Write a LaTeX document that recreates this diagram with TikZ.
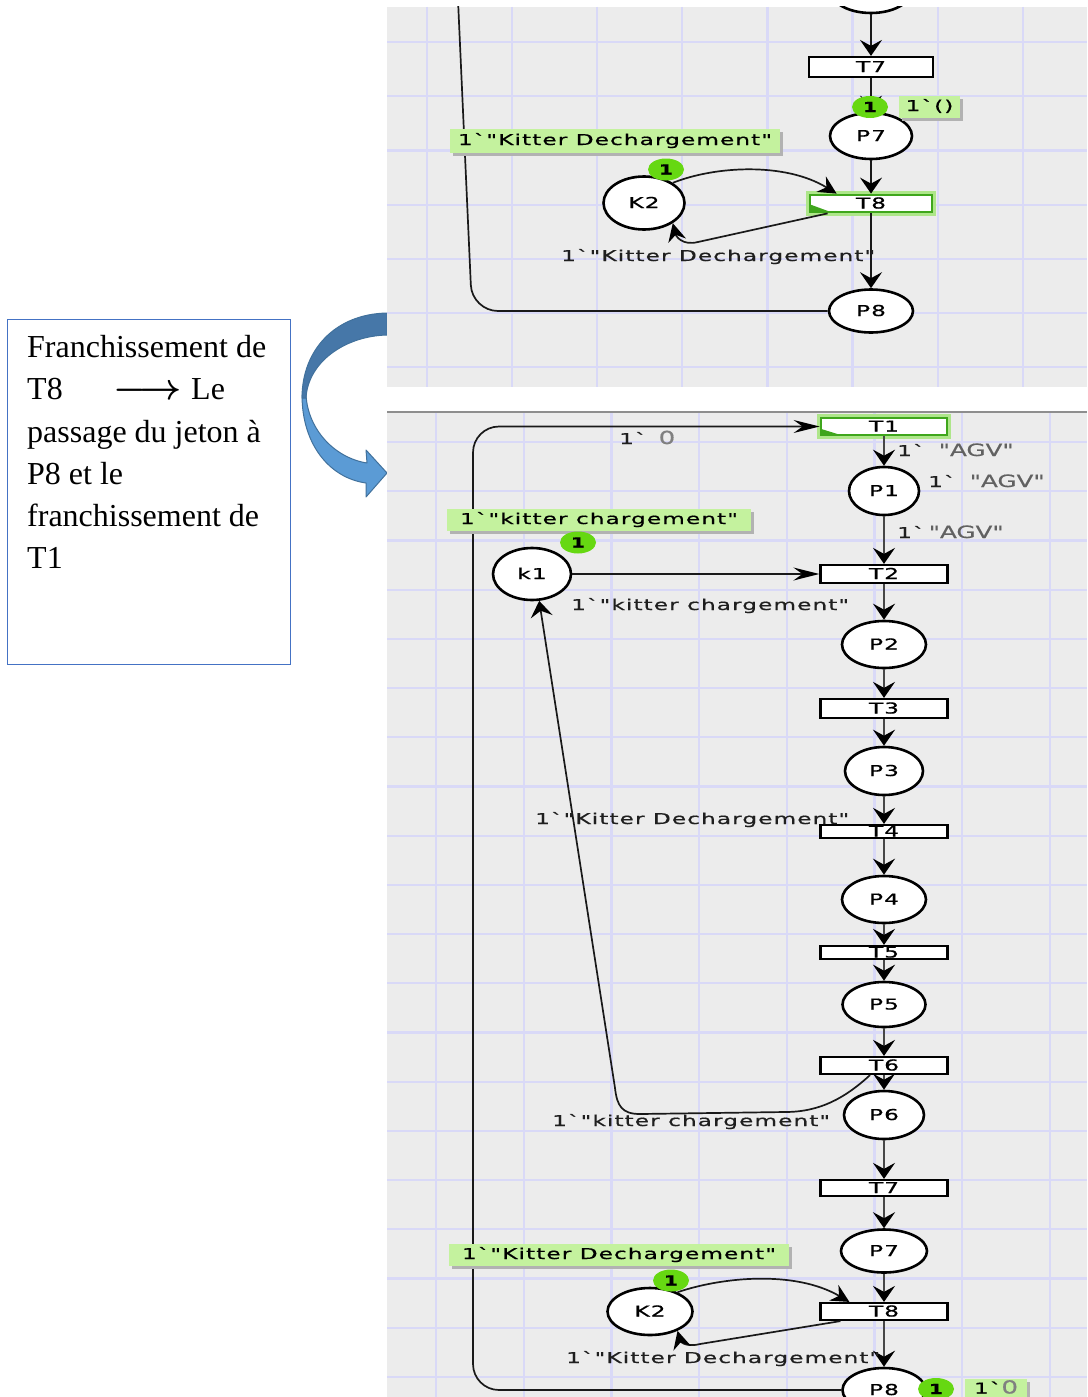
\documentclass[tikz,border=0pt]{standalone}
\usepackage{fix-cm}
\usepackage{fontspec}
\setmainfont{Liberation Serif}
\newfontfamily\cpnfont[FakeStretch=1.55,LetterSpace=7,FakeBold=0.6]{DejaVu Sans}
\newfontfamily\cpnplain[FakeStretch=1.45,FakeBold=0.6]{DejaVu Sans}
\usetikzlibrary{arrows.meta,shapes.geometric,shadows}

\definecolor{panelbg}{HTML}{ECECEC}
\definecolor{gridline}{HTML}{D9D9F7}
\definecolor{panelrule}{HTML}{8E8E8E}
\definecolor{tokgreen}{HTML}{66D812}
\definecolor{markgreen}{HTML}{C4F29E}
\definecolor{hlgreen}{HTML}{3FA61C}
\definecolor{glowgreen}{HTML}{AEE68A}
\definecolor{ribbondark}{HTML}{4677A8}
\definecolor{ribbonlight}{HTML}{5B9BD5}
\definecolor{ribbonedge}{HTML}{41719C}
\definecolor{noteblue}{HTML}{4472C4}

\newcommand\cpnsize{\fontsize{15}{15}\selectfont}
\newcommand\agvstr{{\cpnplain\fontsize{17}{17}\selectfont\color{black!62}"AGV"}}
\newcommand\nilval{{\cpnplain\fontsize{18}{18}\selectfont\color{black!50}0}}

\tikzset{
  net text/.style={font=\cpnfont\cpnsize},
  place/.style={ellipse, draw=black, line width=2.6pt, fill=white, inner sep=0pt,
    minimum width=84pt, minimum height=47pt, text height=10pt, text depth=0pt, net text},
  trans/.style={rectangle, draw=black, line width=2.2pt, fill=white, inner sep=0pt,
    minimum width=127pt, minimum height=17pt, text height=10pt, text depth=0pt, net text},
  enabled/.style={draw=hlgreen, line width=2.8pt, preaction={draw=glowgreen, line width=8pt}},
  token/.style={ellipse, fill=tokgreen, inner sep=0pt, minimum width=36pt, minimum height=22pt,
    text height=10pt, text depth=0pt, font=\cpnplain\bfseries\fontsize{14}{14}\selectfont},
  marking/.style={rectangle, fill=markgreen, inner sep=0pt, minimum height=23pt,
    text height=10pt, text depth=2pt, net text,
    drop shadow={shadow xshift=3pt, shadow yshift=-3pt, fill=black!30, opacity=1}},
  inscription/.style={inner sep=0pt, anchor=base west, text=black!88, net text},
  arc/.style={line width=1.7pt, draw=black!90},
  spine/.style={line width=2.4pt, draw=black!72},
  tip v/.style={-{Stealth[length=16pt,width=22pt,inset=6pt,color=black]}},
  tip h/.style={-{Stealth[length=26pt,width=13pt,inset=9pt,color=black]}},
  tip o/.style={-{Stealth[length=18pt,width=18pt,inset=6pt,color=black]}},
  gridrule/.style={draw=gridline, line width=2.2pt},
  notetext/.style={anchor=base west, inner sep=0pt, font=\fontsize{32}{42}\selectfont},
}

\begin{document}
\begin{tikzpicture}[x=1pt,y=-1pt]
\fill[white] (0,0) rectangle (1087,1397);
\useasboundingbox (0,0) rectangle (1087,1397);

% ---------- note on the left ----------
\node[draw=noteblue, line width=1.2pt, fill=white, minimum width=283pt, minimum height=345pt,
      inner sep=0pt, anchor=north west] (note) at (7,319) {};
\node[notetext] (n1) at (27,357) {Franchissement de};
\node[notetext] (n2) at (27,399) {T8};
\node[notetext, anchor=base] (n2arrow) at (148,399) {\scalebox{1.15}[1.15]{\boldmath$\longrightarrow$}};
\node[notetext] (n2b) at (191,399) {Le};
\node[notetext] (n3) at (27,442) {passage du jeton à};
\node[notetext] (n4) at (27,484) {P8 et le};
\node[notetext] (n5) at (27,526) {franchissement de};
\node[notetext] (n6) at (27,568) {T1};

% ---------- curved ribbon arrow ----------
\filldraw[fill=ribbonlight, draw=ribbonedge, line width=1pt, line join=round]
  (302,395) .. controls (302,445) and (330,478) .. (366,483)
  -- (366,497) -- (387,473) -- (366,450) -- (367,463)
  .. controls (335,458) and (308,430) .. (306,395) -- cycle;
\filldraw[fill=ribbondark, draw=ribbonedge, line width=1pt, line join=round]
  (387,313) .. controls (335,314) and (302,350) .. (302,398)
  -- (306,398) .. controls (308,362) and (345,336) .. (387,335) -- cycle;

% ---------- upper net view ----------
\begin{scope}
\clip (387,7) rectangle (1087,387);
\fill[panelbg] (387,7) rectangle (1087,387);
\foreach \k in {0,...,7} \draw[gridrule] ({427+85.1*\k},7) -- ({427+85.1*\k},387);
\foreach \k in {0,...,6} \draw[gridrule] (387,{42+54.2*\k}) -- (1087,{42+54.2*\k});

\node[place, minimum width=82pt, minimum height=46pt] (tP6) at (871,-10) {};
\node[trans, minimum width=124pt, minimum height=20pt] (tT7) at (871,67) {T7};
\node[place, minimum width=82pt, minimum height=46pt] (tP7) at (871,136) {P7};
\node[trans, enabled, minimum width=122pt, minimum height=17pt] (tT8) at (871,203.5) {T8};
\fill[hlgreen] ([shift={(1.4pt,1.4pt)}]tT8.south west) -- ([shift={(1.4pt,9pt)}]tT8.south west)
  -- ([shift={(22pt,1.4pt)}]tT8.south west) -- cycle;
\node[place, minimum width=81pt, minimum height=53pt] (tK2) at (644,203) {K2};
\node[place, minimum width=84pt, minimum height=43pt] (tP8) at (871,311) {P8};
\coordinate (tloop) at (458,0);

\draw[arc, tip v] (tP6) -- (tT7);
\draw[arc, tip v] (tT7) -- (tP7);
\draw[arc, tip v] (tP7) -- (tT8);
\draw[arc, tip v] (tT8) -- (tP8);
\draw[arc, tip o] (tK2.35) .. controls (715,166) and (785,162) .. ([xshift=28pt]tT8.north west);
\draw[arc, tip o] ([xshift=19pt]tT8.south west) -- (698,242) .. controls (682,246) and (676,236) .. (tK2.-35);
\draw[arc, rounded corners=26pt] (tP8.west) -- (472,311) -- (tloop);

\node[inscription] (tI1) at (561,261) {1`"Kitter Dechargement"};
\node[marking, minimum width=61pt, minimum height=22pt] (tM1) at (929.5,107) {1`()};
\node[marking, minimum width=330pt, minimum height=24pt] (tM2) at (615,141) {1`"Kitter Dechargement"};
\node[token] (tTok1) at (870,107) {1};
\node[token] (tTok2) at (666,169.5) {1};
\end{scope}

% ---------- lower net view ----------
\draw[panelrule, line width=1.6pt] (387,412) -- (1087,412);
\begin{scope}
\clip (387,413) rectangle (1087,1397);
\fill[panelbg] (387,413) rectangle (1087,1397);
\foreach \k in {0,...,7} \draw[gridrule] ({436+87.7*\k},413) -- ({436+87.7*\k},1397);
\foreach \k in {0,...,19} \draw[gridrule] (387,{442+49.2*\k}) -- (1087,{442+49.2*\k});

\node[trans, enabled, minimum width=126pt] (bT1) at (884,426.5) {T1};
\fill[hlgreen] ([shift={(1.4pt,1.4pt)}]bT1.south west) -- ([shift={(1.4pt,7.5pt)}]bT1.south west)
  -- ([shift={(21pt,1.4pt)}]bT1.south west) -- cycle;
\node[place, minimum width=70pt, minimum height=48pt] (bP1) at (884,491) {P1};
\node[trans, minimum height=18pt] (bT2) at (884,574) {T2};
\node[place] (bP2) at (884,644.5) {P2};
\node[trans, minimum height=19pt] (bT3) at (884,708.5) {T3};
\node[place, minimum width=78pt, minimum height=48pt] (bP3) at (884,771) {P3};
\node[trans, minimum height=13pt] (bT4) at (884,831.5) {T4};
\node[place] (bP4) at (884,899.5) {P4};
\node[trans, minimum height=13pt] (bT5) at (884,952.5) {T5};
\node[place, minimum width=83pt, minimum height=45pt] (bP5) at (884,1004.5) {P5};
\node[trans] (bT6) at (884,1065.5) {T6};
\node[place, minimum width=80pt, minimum height=48pt] (bP6) at (884,1115) {P6};
\node[trans, minimum height=16pt] (bT7) at (884,1188) {T7};
\node[place, minimum width=86pt, minimum height=43pt] (bP7) at (884,1251) {P7};
\node[trans] (bT8) at (884,1311.5) {T8};
\node[place, minimum width=85pt, minimum height=47pt] (bK2) at (650,1311.5) {K2};
\node[place, minimum width=78pt, minimum height=52pt] (bk1) at (532,574) {k1};
\node[place, minimum width=83pt, minimum height=44pt] (bP8) at (884,1390) {P8};

\draw[spine, tip v] (bT1) -- (bP1);
\draw[spine, tip v] (bP1) -- (bT2);
\draw[spine, tip v] (bT2) -- (bP2);
\draw[spine, tip v] (bP2) -- (bT3);
\draw[spine, tip v] (bT3) -- (bP3);
\draw[spine, tip v] (bP3) -- (bT4);
\draw[spine, tip v] (bT4) -- (bP4);
\draw[spine, tip v] (bP4) -- (bT5);
\draw[spine, tip v] (bT5) -- (bP5);
\draw[spine, tip v] (bP5) -- (bT6);
\draw[spine, tip v] (bT6) -- (bP6);
\draw[spine, tip v] (bP6) -- (bT7);
\draw[spine, tip v] (bT7) -- (bP7);
\draw[spine, tip v] (bP7) -- (bT8);
\draw[spine, tip v] (bT8) -- (bP8);
\draw[arc, tip h] (bk1) -- (bT2);
\draw[arc, tip h, rounded corners=26pt] (bP8.west) -- (473,1390) -- (473,426.5) -- (bT1.west);
\draw[arc, tip v] ([xshift=-14pt]bT6.south) .. controls (845,1098) and (820,1112) .. (785,1112)
  -- (640,1114) .. controls (622,1114) and (617,1106) .. (615,1088) -- (bk1.-75);
\draw[arc, tip o] (bK2.35) .. controls (722,1277) and (795,1270) .. ([xshift=30pt]bT8.north west);
\draw[arc, tip o] ([xshift=21pt]bT8.south west) -- (700,1344) .. controls (684,1348) and (680,1340) .. (bK2.-35);

\node[inscription] (bI1) at (619,444) {1`\hspace{12pt}\nilval};
\node[inscription] (bI2) at (897,456) {1`\hspace{14pt}\agvstr};
\node[inscription] (bI3) at (928,487) {1`\hspace{14pt}\agvstr};
\node[inscription] (bI4) at (897,538) {1`\hspace{4pt}\agvstr};
\node[inscription] (bI5) at (571,610) {1`"kitter chargement"};
\node[inscription] (bI6) at (535,824) {1`"Kitter Dechargement"};
\node[inscription] (bI7) at (552,1126) {1`"kitter chargement"};
\node[inscription] (bI8) at (566,1363) {1`"Kitter Dechargement"};

\node[marking, minimum width=304pt, minimum height=22pt] (bM1) at (599,520) {1`"kitter chargement"};
\node[marking, minimum width=340pt, minimum height=22pt] (bM2) at (619,1255) {1`"Kitter Dechargement"};
\node[marking, minimum width=62pt, minimum height=22pt] (bM3) at (996,1389.5) {1`\nilval};
\node[token] (bTok1) at (578,542.5) {1};
\node[token] (bTok2) at (671,1280.5) {1};
\node[token] (bTok3) at (936,1389) {1};
\end{scope}
\end{tikzpicture}
\end{document}
